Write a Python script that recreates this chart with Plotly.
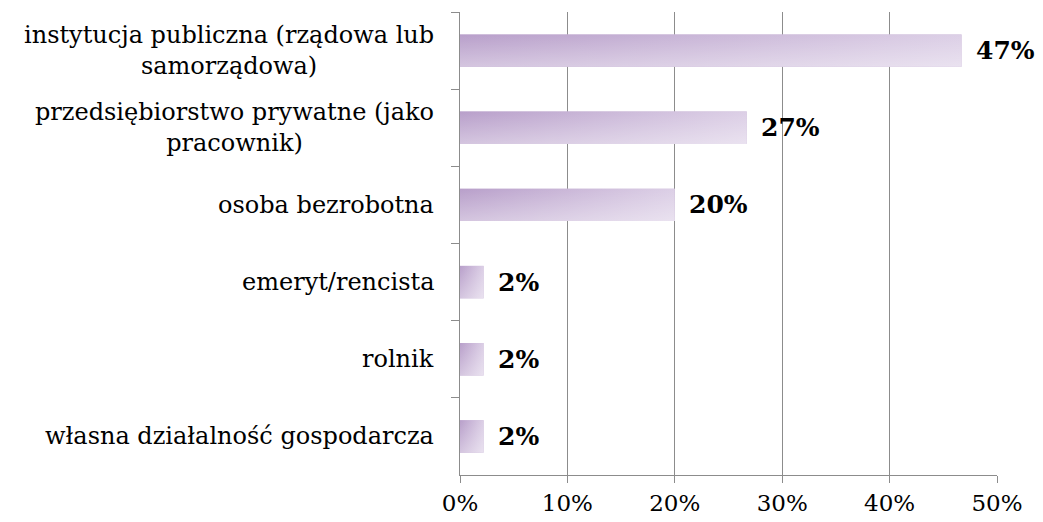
import plotly.graph_objects as go

categories = [
    "instytucja publiczna (rządowa lub<br>samorządowa)",
    "przedsiębiorstwo prywatne (jako<br>pracownik)",
    "osoba bezrobotna",
    "emeryt/rencista",
    "rolnik",
    "własna działalność gospodarcza",
]
values = [46.7, 26.7, 20.0, 2.2, 2.2, 2.2]
labels = ["47%", "27%", "20%", "2%", "2%", "2%"]
x_ticks = [0, 10, 20, 30, 40, 50]
x_ticktext = ["0%", "10%", "20%", "30%", "40%", "50%"]

FONT = "DejaVu Serif"
BAR_W = 0.42
GRID = "#8c8c8c"

fig = go.Figure()

# base bars (solid) on the categorical axis
fig.add_trace(go.Bar(
    x=values, y=categories, orientation="h", width=BAR_W,
    marker=dict(color="#cbb9d8", line=dict(width=0)),
    hoverinfo="skip", showlegend=False,
))

# gradient overlays derived from the same data, on a matching numeric axis
for i, v in enumerate(values):
    xs = [0, v, v, 0, 0]
    ys = [i - BAR_W / 2, i - BAR_W / 2, i + BAR_W / 2, i + BAR_W / 2, i - BAR_W / 2]
    fig.add_trace(go.Scatter(
        x=xs, y=ys, yaxis="y2", mode="lines", line=dict(width=0),
        fill="toself",
        fillgradient=dict(type="horizontal",
                          colorscale=[[0, "#b89fca"], [1, "#dccfe6"]]),
        hoverinfo="skip", showlegend=False,
    ))
    fig.add_trace(go.Scatter(
        x=xs, y=ys, yaxis="y2", mode="lines", line=dict(width=0),
        fill="toself",
        fillgradient=dict(type="vertical",
                          colorscale=[[0, "rgba(255,255,255,0.4)"], [1, "rgba(255,255,255,0)"]]),
        hoverinfo="skip", showlegend=False,
    ))

annotations = []
for cat, v, lab in zip(categories, values, labels):
    annotations.append(dict(
        x=v, y=cat, xref="x", yref="y", text=f"<b>{lab}</b>",
        showarrow=False, xanchor="left", xshift=12,
        font=dict(family=FONT, size=25, color="#000000"),
    ))
    annotations.append(dict(
        x=0, y=cat, xref="paper", yref="y", text=cat,
        showarrow=False, xanchor="right", align="center", xshift=-24,
        font=dict(family=FONT, size=24, color="#000000"),
    ))

fig.update_layout(
    width=1043, height=522,
    margin=dict(l=452, r=54, t=4, b=55),
    paper_bgcolor="white", plot_bgcolor="white",
    font=dict(family=FONT, size=23, color="#000000"),
    annotations=annotations,
    xaxis=dict(
        range=[0, 50], tickvals=x_ticks, ticktext=x_ticktext,
        showgrid=True, gridcolor=GRID, gridwidth=1,
        showline=True, linecolor=GRID, linewidth=1,
        ticks="outside", ticklen=7, tickcolor=GRID,
        zeroline=False, tickfont=dict(family=FONT, size=23),
    ),
    yaxis=dict(
        type="category", categoryorder="array", categoryarray=categories,
        autorange="reversed", tickson="boundaries",
        showticklabels=False, showgrid=False, zeroline=False,
        showline=True, linecolor=GRID, linewidth=1,
        ticks="outside", ticklen=8, tickcolor=GRID,
    ),
    yaxis2=dict(
        overlaying="y", range=[len(categories) - 0.5, -0.5],
        visible=False, showgrid=False, zeroline=False,
    ),
)

fig.write_html("out.html")
